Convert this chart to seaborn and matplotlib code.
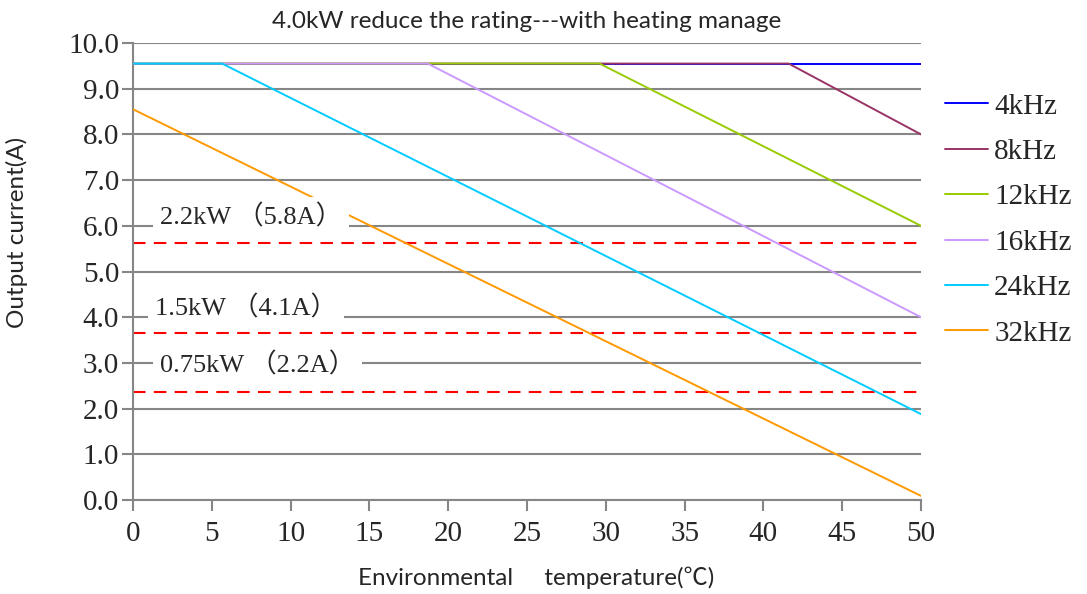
import numpy as np
import pandas as pd
import seaborn as sns
import matplotlib.pyplot as plt

# carrier frequencies and their derating curves (knee points)
freqs = ['4kHz', '8kHz', '12kHz', '16kHz', '24kHz', '32kHz']
colors = ['#0000FF', '#993366', '#99CC00', '#CC99FF', '#00CCFF', '#FF9900']
curve_x = {
    '4kHz': [0, 50],
    '8kHz': [0, 41.6, 50],
    '12kHz': [0, 29.6, 50],
    '16kHz': [0, 18.7, 50],
    '24kHz': [0, 5.65, 50],
    '32kHz': [0, 50],
}
curve_y = {
    '4kHz': [9.55, 9.55],
    '8kHz': [9.55, 9.55, 8.0],
    '12kHz': [9.55, 9.55, 6.0],
    '16kHz': [9.55, 9.55, 4.0],
    '24kHz': [9.55, 9.55, 1.88],
    '32kHz': [8.55, 0.09],
}

# rated current of smaller drives (red dashed)
ref_labels = ['2.2kW （5.8A）', '1.5kW （4.1A）', '0.75kW （2.2A）']
ref_current = [5.63, 3.66, 2.37]
label_x = [1.7, 1.4, 1.7]
label_y = [6.2, 4.2, 2.95]

rows = []
for f in freqs:
    for x, y in zip(curve_x[f], curve_y[f]):
        rows.append({'temp': x, 'current': y, 'freq': f})
df = pd.DataFrame(rows)

sns.set_style('white')
plt.rcParams['font.family'] = ['Liberation Serif', 'Noto Sans CJK SC']

fig = plt.figure(figsize=(10.87, 5.94), dpi=100)
ax = fig.add_axes([0.1224, 0.1582, 0.7249, 0.7694])

sns.lineplot(data=df, x='temp', y='current', hue='freq', hue_order=freqs,
             palette=colors, estimator=None, sort=False, lw=1.4, ax=ax, zorder=3)

for c in ref_current:
    ax.axhline(c, xmin=0, xmax=1, color='#FF0000', lw=1.5, ls=(0, (6, 4)), zorder=2)

for t, x, y in zip(ref_labels, label_x, label_y):
    ax.text(x, y, t, fontsize=19, va='center', ha='left', zorder=5,
            bbox=dict(facecolor='white', edgecolor='none', pad=5))

ax.set_xlim(0, 50)
ax.set_ylim(0, 10)
ax.set_xticks(np.arange(0, 51, 5))
ax.set_yticks(np.arange(0, 10.1, 1))
ax.set_yticklabels([f'{v:.1f}' for v in np.arange(0, 10.1, 1)])
ax.yaxis.grid(True, color='#868686', lw=1.5, zorder=1)
ax.set_axisbelow(True)
ax.tick_params(axis='both', labelsize=21, color='#868686', length=8, width=1.5,
               left=True, bottom=True)
ax.tick_params(axis='x', pad=7)
ax.tick_params(axis='y', pad=2)
for s in ['top', 'right']:
    ax.spines[s].set_visible(False)
for s in ['left', 'bottom']:
    ax.spines[s].set_color('#868686')
    ax.spines[s].set_linewidth(1.5)

sans = ['Lato', 'Noto Sans CJK SC']
ax.set_title('4.0kW reduce the rating---with heating manage', fontsize=17.5,
             family=sans, pad=11)
ax.set_xlabel('Environmental     temperature(℃)', fontsize=17.5, family=sans)
ax.xaxis.set_label_coords(0.511, -0.145)
ax.set_ylabel('Output current(A)', fontsize=17.5, family=sans)
ax.yaxis.set_label_coords(-0.133, 0.586)

ax.legend(loc='upper left', bbox_to_anchor=(0.869, 0.843), bbox_transform=fig.transFigure,
          frameon=False, fontsize=21, handlelength=1.5, handletextpad=0.2,
          labelspacing=0.65, borderaxespad=0, borderpad=0)

fig.savefig('out.png', dpi=100)
